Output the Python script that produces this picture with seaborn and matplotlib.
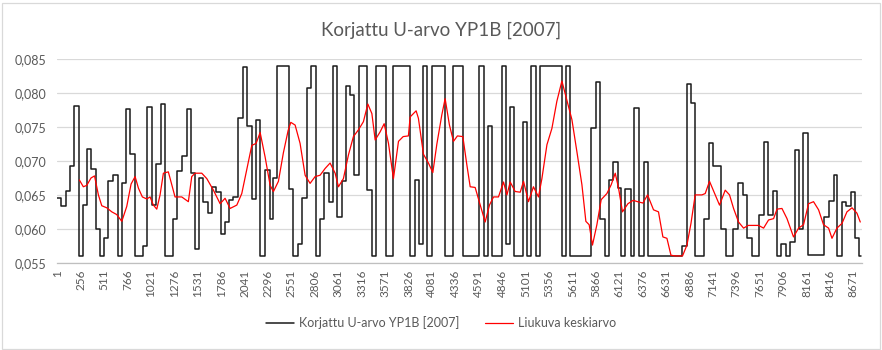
import matplotlib
matplotlib.use("Agg")
import matplotlib.pyplot as plt
import matplotlib.patches as mpatches
from matplotlib.ticker import FuncFormatter
import seaborn as sns
import pandas as pd

# ---------------- data ----------------
title = "Korjattu U-arvo YP1B [2007]"
series_black = "Korjattu U-arvo YP1B [2007]"
series_red = "Liukuva keskiarvo"
n_hours = 8760

# step series: hour at which a new level starts, and the level
step_hours = [1, 41, 90, 139, 186, 232, 276, 321, 371, 420, 461, 510, 557, 611, 659, 703,
              746, 795, 842, 931, 978, 1031, 1076, 1131, 1169, 1265, 1308, 1362, 1409,
              1455, 1501, 1548, 1592, 1638, 1687, 1730, 1781, 1828, 1875, 1919, 1970,
              2024, 2068, 2117, 2166, 2210, 2264, 2313, 2348, 2392, 2526, 2572, 2627,
              2671, 2718, 2769, 2817, 2867, 2910, 2956, 3000, 3049, 3100, 3147, 3190,
              3237, 3288, 3375, 3427, 3474, 3577, 3659, 3847, 3899, 3945, 3989, 4029,
              4081, 4225, 4316, 4418, 4599, 4650, 4697, 4741, 4843, 4890, 4934, 4977,
              5068, 5119, 5162, 5211, 5260, 5493, 5541, 5587, 5816, 5869, 5914, 5966,
              6015, 6056, 6103, 6143, 6187, 6255, 6285, 6334, 6386, 6434, 6808, 6859,
              6906, 6949, 7044, 7094, 7142, 7227, 7280, 7358, 7415, 7465, 7513, 7563,
              7647, 7698, 7745, 7794, 7840, 7886, 7933, 7985, 8036, 8080, 8119, 8175,
              8357, 8407, 8456, 8497, 8548, 8595, 8647, 8693, 8731]
step_values = [0.0645, 0.0634, 0.0656, 0.0693, 0.0781, 0.0560, 0.0635, 0.0717, 0.0688,
               0.0600, 0.0560, 0.0586, 0.0670, 0.0680, 0.0560, 0.0668, 0.0776, 0.0711,
               0.0560, 0.0575, 0.0780, 0.0635, 0.0695, 0.0784, 0.0560, 0.0615, 0.0685,
               0.0708, 0.0776, 0.0682, 0.0570, 0.0675, 0.0640, 0.0624, 0.0661, 0.0655,
               0.0593, 0.0610, 0.0642, 0.0647, 0.0764, 0.0839, 0.0751, 0.0644, 0.0760,
               0.0560, 0.0686, 0.0615, 0.0675, 0.0840, 0.0658, 0.0560, 0.0578, 0.0646,
               0.0807, 0.0840, 0.0560, 0.0614, 0.0682, 0.0640, 0.0840, 0.0617, 0.0670,
               0.0811, 0.0798, 0.0679, 0.0840, 0.0657, 0.0560, 0.0840, 0.0560, 0.0840,
               0.0560, 0.0672, 0.0577, 0.0840, 0.0560, 0.0840, 0.0560, 0.0840, 0.0560,
               0.0840, 0.0560, 0.0752, 0.0560, 0.0840, 0.0578, 0.0779, 0.0560, 0.0758,
               0.0560, 0.0840, 0.0560, 0.0840, 0.0560, 0.0840, 0.0560, 0.0748, 0.0816,
               0.0615, 0.0560, 0.0672, 0.0699, 0.0660, 0.0560, 0.0659, 0.0560, 0.0778,
               0.0560, 0.0699, 0.0560, 0.0575, 0.0813, 0.0786, 0.0560, 0.0615, 0.0726,
               0.0693, 0.0600, 0.0560, 0.0600, 0.0668, 0.0650, 0.0586, 0.0560, 0.0620,
               0.0728, 0.0620, 0.0656, 0.0560, 0.0577, 0.0560, 0.0580, 0.0716, 0.0600,
               0.0741, 0.0561, 0.0617, 0.0641, 0.0679, 0.0560, 0.0639, 0.0633, 0.0654,
               0.0587, 0.0560]

# moving average, read at sample hours
ma_hours = [241, 284, 321, 368, 406, 448, 485, 539, 594, 648, 703, 757, 804, 848, 884,
            927, 975, 1011, 1047, 1084, 1120, 1156, 1210, 1283, 1356, 1428, 1465, 1501,
            1574, 1629, 1701, 1774, 1828, 1883, 1956, 2010, 2065, 2119, 2166, 2210,
            2264, 2319, 2355, 2409, 2463, 2515, 2544, 2591, 2645, 2700, 2754, 2809,
            2863, 2918, 2972, 3027, 3063, 3117, 3172, 3226, 3281, 3335, 3383, 3427,
            3463, 3517, 3561, 3608, 3662, 3717, 3768, 3825, 3844, 3909, 3934, 3989,
            4043, 4091, 4135, 4189, 4225, 4272, 4316, 4359, 4418, 4462, 4498, 4552,
            4607, 4661, 4708, 4752, 4806, 4861, 4898, 4934, 4988, 5043, 5079, 5133,
            5187, 5242, 5279, 5334, 5388, 5442, 5497, 5551, 5606, 5660, 5715, 5758,
            5794, 5830, 5878, 5925, 5987, 6034, 6078, 6114, 6157, 6216, 6274, 6321,
            6380, 6430, 6495, 6549, 6597, 6641, 6685, 6731, 6811, 6859, 6903, 6949,
            7022, 7058, 7105, 7167, 7214, 7276, 7323, 7367, 7421, 7476, 7527, 7567,
            7639, 7694, 7748, 7803, 7840, 7894, 7949, 8020, 8075, 8129, 8184, 8238,
            8293, 8347, 8402, 8439, 8493, 8548, 8602, 8657, 8711, 8747]
ma_values = [0.0672, 0.0662, 0.0664, 0.0675, 0.0678, 0.0650, 0.0634, 0.0631, 0.0625,
             0.0621, 0.0611, 0.0633, 0.0666, 0.0677, 0.0660, 0.0647, 0.0644, 0.0647,
             0.0635, 0.0629, 0.0650, 0.0682, 0.0684, 0.0647, 0.0647, 0.0640, 0.0677,
             0.0682, 0.0682, 0.0674, 0.0657, 0.0637, 0.0645, 0.0630, 0.0635, 0.0652,
             0.0688, 0.0723, 0.0726, 0.0742, 0.0706, 0.0664, 0.0655, 0.0670, 0.0712,
             0.0745, 0.0757, 0.0753, 0.0726, 0.0679, 0.0667, 0.0677, 0.0679, 0.0689,
             0.0697, 0.0682, 0.0662, 0.0674, 0.0709, 0.0736, 0.0746, 0.0758, 0.0784,
             0.0770, 0.0731, 0.0743, 0.0755, 0.0726, 0.0674, 0.0729, 0.0736, 0.0737,
             0.0765, 0.0774, 0.0763, 0.0710, 0.0697, 0.0683, 0.0725, 0.0768, 0.0792,
             0.0753, 0.0729, 0.0737, 0.0736, 0.0694, 0.0662, 0.0661, 0.0635, 0.0610,
             0.0635, 0.0647, 0.0647, 0.0669, 0.0650, 0.0669, 0.0655, 0.0654, 0.0670,
             0.0640, 0.0662, 0.0647, 0.0674, 0.0724, 0.0748, 0.0788, 0.0818, 0.0790,
             0.0761, 0.0714, 0.0665, 0.0611, 0.0606, 0.0576, 0.0606, 0.0643, 0.0652,
             0.0665, 0.0682, 0.0660, 0.0625, 0.0637, 0.0642, 0.0640, 0.0638, 0.0650,
             0.0628, 0.0625, 0.0588, 0.0586, 0.0561, 0.0560, 0.0560, 0.0576, 0.0608,
             0.0650, 0.0650, 0.0652, 0.0670, 0.0650, 0.0635, 0.0657, 0.0650, 0.0630,
             0.0610, 0.0601, 0.0605, 0.0605, 0.0605, 0.0601, 0.0613, 0.0615, 0.0629,
             0.0630, 0.0615, 0.0588, 0.0601, 0.0606, 0.0637, 0.0640, 0.0628, 0.0606,
             0.0601, 0.0586, 0.0601, 0.0608, 0.0625, 0.0631, 0.0623, 0.0610]

y_ticks = [0.055, 0.060, 0.065, 0.070, 0.075, 0.080, 0.085]
x_tick_labels = list(range(1, n_hours + 1, 255))

# ---------------- plot ----------------
sns.set_theme(style="white")
plt.rcParams["font.family"] = ["Lato", "DejaVu Sans"]
text_color = "#595959"

df_step = pd.DataFrame({"hour": step_hours + [n_hours],
                        "value": step_values + [step_values[-1]],
                        "series": series_black})
df_ma = pd.DataFrame({"hour": ma_hours, "value": ma_values, "series": series_red})

W, H = 882, 350
fig = plt.figure(figsize=(W / 100, H / 100), dpi=100)
ax = fig.add_axes([57.3 / W, 1 - 262.7 / H, (861.5 - 57.3) / W, (262.7 - 59.3) / H])

sns.lineplot(data=df_step, x="hour", y="value", ax=ax, color="#1a1a1a",
             linewidth=1.1, drawstyle="steps-post", label=series_black, zorder=3)
sns.lineplot(data=df_ma, x="hour", y="value", ax=ax, color="#ff0000",
             linewidth=0.9, label=series_red, zorder=4)

ax.set_xlim(0.5, n_hours + 0.5)
ax.set_ylim(0.055, 0.085)
ax.set_yticks(y_ticks)
ax.yaxis.set_major_formatter(FuncFormatter(lambda v, p: f"{v:.3f}".replace(".", ",")))
ax.set_xticks(x_tick_labels)
ax.set_xticklabels([str(v) for v in x_tick_labels], rotation=90)
ax.tick_params(axis="x", labelsize=8.5, colors=text_color, length=0, pad=5)
ax.tick_params(axis="y", labelsize=9, colors=text_color, length=0, pad=8)
ax.grid(axis="y", color="#d9d9d9", linewidth=0.9)
ax.grid(axis="x", visible=False)
for s in ["top", "right", "left"]:
    ax.spines[s].set_visible(False)
ax.spines["bottom"].set_color("#bfbfbf")
ax.spines["bottom"].set_linewidth(0.9)
ax.set_xlabel("")
ax.set_ylabel("")

handles, labels = ax.get_legend_handles_labels()
ax.get_legend().remove()
fig.legend(handles, labels, loc="center", bbox_to_anchor=(0.5, 1 - 323 / H), ncol=2,
           frameon=False, fontsize=9, handlelength=2.3, columnspacing=2.0,
           handletextpad=0.4, labelcolor=text_color)

fig.text(0.5, 1 - 30 / H, title, ha="center", va="center", fontsize=13.5, color=text_color)

fig.patches.append(mpatches.Rectangle((1.5 / W, 1.5 / H), (W - 4) / W, (H - 4) / H,
                                      transform=fig.transFigure, fill=False,
                                      edgecolor="#d9d9d9", linewidth=0.9))

fig.savefig("out.png", dpi=100)
